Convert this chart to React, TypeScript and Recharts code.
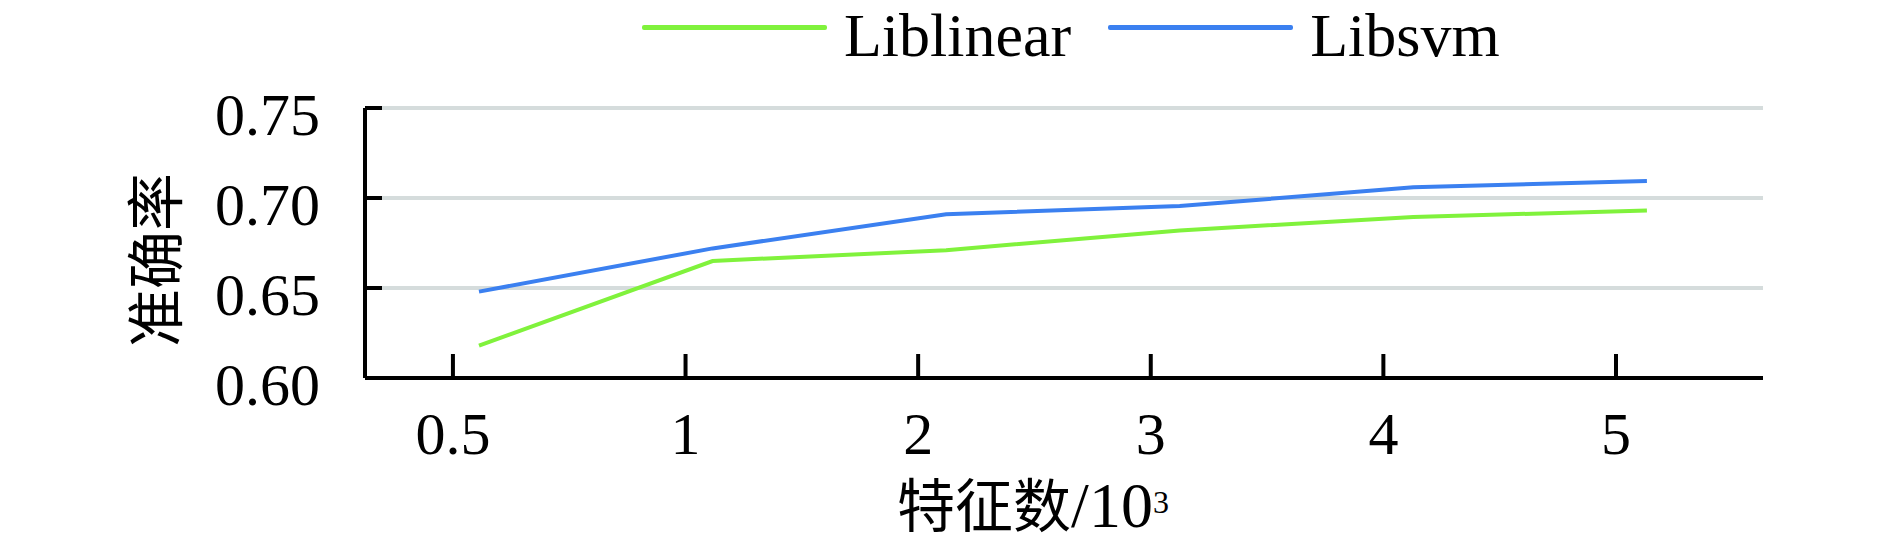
import React from 'react';
import { LineChart, Line, XAxis, YAxis, CartesianGrid } from 'recharts';

// feature count (x10^3) categories and accuracy per classifier
const categories = ['0.5', '1', '2', '3', '4', '5'];
const liblinear = [0.618, 0.665, 0.671, 0.682, 0.6895, 0.693];
const libsvm = [0.648, 0.672, 0.691, 0.6955, 0.706, 0.7095];
const yTicks = [0.6, 0.65, 0.7, 0.75];

const series = [
  { key: 'liblinear', name: 'Liblinear', color: '#80f23c' },
  { key: 'libsvm', name: 'Libsvm', color: '#3b80f0' },
];

const data = categories.map((c, i) => ({
  idx: i,
  label: c,
  liblinear: liblinear[i],
  libsvm: libsvm[i],
}));
const tickIdx = categories.map((_, i) => i);

const FONT = "'Liberation Serif', 'Times New Roman', 'Noto Sans CJK SC', serif";

const YTick = (props: any) => {
  const { x, y, payload } = props;
  return (
    <g>
      <line x1={x} x2={x + 17} y1={y} y2={y} stroke="#000" strokeWidth={4} />
      <text x={x - 45} y={y + 27} textAnchor="end" fontSize={60} fontFamily={FONT} fill="#000">
        {Number(payload.value).toFixed(2)}
      </text>
    </g>
  );
};

const XTick = (props: any) => {
  const { x, y, payload } = props;
  return (
    <g>
      <line x1={x} x2={x} y1={y} y2={y - 24} stroke="#000" strokeWidth={4} />
      <text x={x} y={y + 76} textAnchor="middle" fontSize={60} fontFamily={FONT} fill="#000">
        {categories[payload.value]}
      </text>
    </g>
  );
};

const YTitle = (props: any) => {
  const { viewBox } = props;
  const cx = viewBox.x - 108;
  const cy = viewBox.y + 152;
  return (
    <text
      x={cx}
      y={cy}
      transform={`rotate(-90 ${cx} ${cy})`}
      textAnchor="middle"
      dominantBaseline="central"
      fontSize={58}
      fontFamily={FONT}
      fill="#000"
    >
      准确率
    </text>
  );
};

const XTitle = (props: any) => {
  const { viewBox } = props;
  return (
    <text x={viewBox.x + 668} y={viewBox.y + 149} textAnchor="middle" fontSize={58} fontFamily={FONT} fill="#000">
      特征数
      <tspan fontSize={64}>/10</tspan>
      <tspan fontSize={32} dy={-14}>3</tspan>
    </text>
  );
};

export default function App() {
  return (
    <div style={{ position: 'absolute', left: 0, top: 0, width: 1890, height: 548, background: '#fff' }}>
      <LineChart
        width={1890}
        height={548}
        data={data}
        margin={{ top: 108, right: 127, bottom: 70, left: 265 }}
      >
        <CartesianGrid xAxisId="tick" vertical={false} stroke="#d5dcdc" strokeWidth={4} />
        <XAxis
          xAxisId="data"
          type="number"
          dataKey="idx"
          domain={[-0.488, 5.497]}
          allowDataOverflow
          height={0}
          hide
        />
        <XAxis
          xAxisId="tick"
          type="number"
          dataKey="idx"
          domain={[-0.378, 5.632]}
          allowDataOverflow
          ticks={tickIdx}
          interval={0}
          height={100}
          tickSize={0}
          tickMargin={0}
          tickLine={false}
          axisLine={{ stroke: '#000', strokeWidth: 4 }}
          tick={<XTick />}
          label={<XTitle />}
        />
        <YAxis
          type="number"
          domain={[0.6, 0.75]}
          ticks={yTicks}
          interval={0}
          width={100}
          tickSize={0}
          tickMargin={0}
          tickLine={false}
          axisLine={{ stroke: '#000', strokeWidth: 4 }}
          tick={<YTick />}
          label={<YTitle />}
        />
        {series.map((s) => (
          <Line
            key={s.key}
            xAxisId="data"
            type="linear"
            dataKey={s.key}
            name={s.name}
            stroke={s.color}
            strokeWidth={4}
            dot={false}
            activeDot={false}
            isAnimationActive={false}
          />
        ))}
      </LineChart>
      <div
        style={{
          position: 'absolute',
          left: 642,
          top: 0,
          display: 'flex',
          alignItems: 'flex-start',
          fontFamily: FONT,
          fontSize: 62,
          lineHeight: '70px',
          color: '#000',
        }}
      >
        {series.map((s) => (
          <div key={s.key} style={{ display: 'flex', alignItems: 'flex-start', marginRight: 37 }}>
            <div style={{ width: 185, height: 5, marginTop: 25, marginRight: 17, background: s.color, borderRadius: 2 }} />
            <span style={{ whiteSpace: 'nowrap' }}>{s.name}</span>
          </div>
        ))}
      </div>
    </div>
  );
}
